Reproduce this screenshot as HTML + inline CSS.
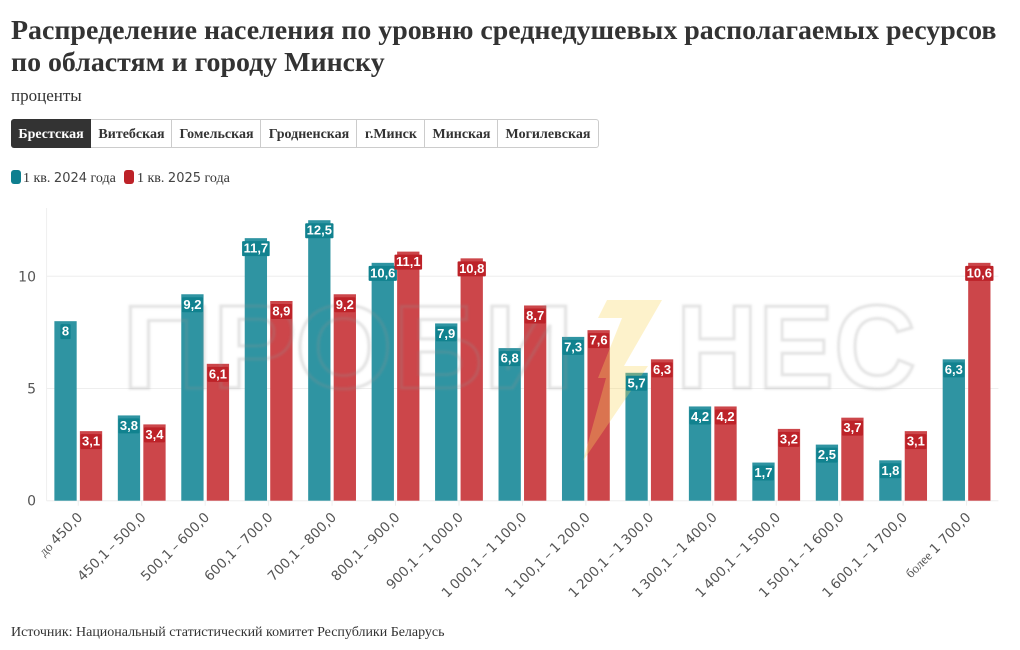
<!DOCTYPE html>
<html lang="ru">
<head>
<meta charset="utf-8">
<title>Распределение населения</title>
<style>
html,body{margin:0;padding:0;background:#fff;}
body{width:1020px;height:650px;position:relative;overflow:hidden;font-family:"Liberation Serif","Noto Serif CJK SC",serif;color:#333;}
.title{position:absolute;left:11px;top:14.5px;margin:0;font-size:27.9px;line-height:32.5px;font-weight:bold;color:#333;white-space:nowrap;}
.sub{position:absolute;left:11px;top:86px;font-size:17px;line-height:20px;color:#333;}
.btn{position:absolute;top:119px;height:27px;line-height:29px;text-align:center;font-size:14px;font-weight:bold;color:#333;background:#fff;border:1px solid #ccc;border-left:none;box-sizing:content-box;}
.btn.on{background:#333;color:#fff;border-color:#333;border-radius:3px 0 0 3px;}
.btn.last{border-radius:0 3px 3px 0;}
.sw{position:absolute;top:170px;width:10px;height:14px;border-radius:3px;}
.lg{position:absolute;top:170px;font-size:14px;line-height:18px;color:#333;white-space:nowrap;}
.num{font-family:"DejaVu Sans",sans-serif;font-size:13px;color:#444;}
.src{position:absolute;left:11px;top:624px;font-size:14px;line-height:17px;color:#333;white-space:nowrap;letter-spacing:-0.01px;}
svg{position:absolute;left:0;top:0;}
</style>
</head>
<body>
<h1 class="title">Распределение населения по уровню среднедушевых располагаемых ресурсов<br>по областям и городу Минску</h1>
<div class="sub">проценты</div>

<div class="btn on" style="left:11px;width:80px">Брестская</div>
<div class="btn" style="left:91px;width:81px">Витебская</div>
<div class="btn" style="left:172px;width:89px;border-left:1px solid #ccc;margin-left:-1px">Гомельская</div>
<div class="btn" style="left:261px;width:96px;border-left:1px solid #ccc;margin-left:-1px">Гродненская</div>
<div class="btn" style="left:357px;width:68px;border-left:1px solid #ccc;margin-left:-1px">г.Минск</div>
<div class="btn" style="left:425px;width:73px;border-left:1px solid #ccc;margin-left:-1px">Минская</div>
<div class="btn last" style="left:498px;width:100px;border-left:1px solid #ccc;margin-left:-1px">Могилевская</div>

<div class="sw" style="left:11px;background:#0f7f8f"></div>
<div class="lg" style="left:23px">1 кв. <span class="num">2024</span> года</div>
<div class="sw" style="left:124px;background:#bd2228"></div>
<div class="lg" style="left:137px">1 кв. <span class="num">2025</span> года</div>

<svg id="chart" width="1020" height="650" viewBox="0 0 1020 650"></svg>

<div class="src">Источник: Национальный статистический комитет Республики Беларусь</div>

<script>
var categories = ["до 450,0","450,1 – 500,0","500,1 – 600,0","600,1 – 700,0","700,1 – 800,0","800,1 – 900,0","900,1 – 1 000,0","1 000,1 – 1 100,0","1 100,1 – 1 200,0","1 200,1 – 1 300,0","1 300,1 – 1 400,0","1 400,1 – 1 500,0","1 500,1 – 1 600,0","1 600,1 – 1 700,0","более 1 700,0"];
var values2024 = [8,3.8,9.2,11.7,12.5,10.6,7.9,6.8,7.3,5.7,4.2,1.7,2.5,1.8,6.3];
var values2025 = [3.1,3.4,6.1,8.9,9.2,11.1,10.8,8.7,7.6,6.3,4.2,3.2,3.7,3.1,10.6];
var yTicks = [0,5,10];

var NS = 'http://www.w3.org/2000/svg';
var svg = document.getElementById('chart');
var plotLeft = 46.6, plotStep = 63.45, plotRight = 998.4, plotTop = 208;
function xCenter(i){ return plotLeft + plotStep * (i + 0.5) - 0.05; }
function yScale(v){ return 500.7 - v * 22.44; }
function mk(tag, attrs, parent){
  var e = document.createElementNS(NS, tag);
  for (var k in attrs) e.setAttribute(k, attrs[k]);
  (parent || svg).appendChild(e);
  return e;
}
function fmt(v){ return String(v).replace('.', ','); }

// grid and axes
var axisLine = mk('line', {x1:plotLeft, x2:plotLeft, y1:plotTop, y2:yScale(0), stroke:'#eeeeee', 'stroke-width':1});


yTicks.forEach(function(t){
  var g = mk('line', {x1:plotLeft, x2:plotRight, y1:yScale(t), y2:yScale(t), stroke:'#eeeeee', 'stroke-width':1});
  
  
  var l = mk('text', {x:36, y:yScale(t) + 5, 'text-anchor':'end', 'font-family':'"DejaVu Sans",sans-serif', 'font-size':14, fill:'#555'});
  l.textContent = t;
  
  
});

// bars
var barW = 22.3, barGap = 3.2;
function drawBars(vals, side, fill, name){
  vals.forEach(function(v, i){
    var x = side < 0 ? xCenter(i) - barGap/2 - barW : xCenter(i) + barGap/2;
    var r = mk('rect', {x:x, y:yScale(v), width:barW, height:yScale(0) - yScale(v), fill:fill});
    
    
  });
}
drawBars(values2024, -1, '#2f94a2', '2024');
drawBars(values2025, 1, '#cc464a', '2025');

// watermark
var wm = mk('g', {});


var defs = mk('defs', {});
var filt = mk('filter', {id:'wmblur', x:'-5%', y:'-20%', width:'110%', height:'140%'}, defs);
mk('feGaussianBlur', {stdDeviation:1.1}, filt);
var wmStyle = {y:388, 'font-family':'"Liberation Sans",sans-serif', 'font-weight':'bold', 'font-size':119, fill:'none', stroke:'#8f8f8f', 'stroke-opacity':0.25, 'stroke-width':3, filter:'url(#wmblur)', lengthAdjust:'spacingAndGlyphs'};
var w1 = mk('text', Object.assign({x:122, textLength:452}, wmStyle), wm);
w1.textContent = 'ПРОБИ';


var w2 = mk('text', Object.assign({x:676, textLength:240}, wmStyle), wm);
w2.textContent = 'НЕС';


var bolt = mk('polygon', {points:'607,300 662,300 624,366 648,366 583,461 606,378 598,378 622,318 598,318', fill:'#f9d65c', 'fill-opacity':0.32}, wm);



// value labels
function drawLabels(vals, side, bg, name){
  vals.forEach(function(v, i){
    var cx = side < 0 ? xCenter(i) - barGap/2 - barW/2 : xCenter(i) + barGap/2 + barW/2;
    var top = yScale(v);
    var t = mk('text', {x:cx, y:top + 14.5, 'text-anchor':'middle', 'font-family':'"Liberation Sans",sans-serif', 'font-weight':'bold', 'font-size':13, fill:'#fff'});
    t.textContent = fmt(v);
    
    
    var w = t.getComputedTextLength() + 3;
    var b = mk('rect', {x:cx - w/2, y:top + 3, width:w, height:15, fill:bg, rx:1});
    
    
    svg.insertBefore(b, t);
  });
}
drawLabels(values2024, -1, '#11828f', '2024');
drawLabels(values2025, 1, '#bd2228', '2025');

// category ticks and labels
categories.forEach(function(c, i){
  var cx = xCenter(i);
  var tk = mk('line', {x1:cx, x2:cx, y1:yScale(0), y2:yScale(0) + 5, stroke:'#eeeeee', 'stroke-width':1});
  
  
  var ax = cx + 5, ay = 518;
  var m = c.match(/^(до|более) (.*)$/);
  var t = mk('text', {x:ax, y:ay, 'text-anchor':'end', transform:'rotate(-45 ' + ax + ' ' + ay + ')', 'font-family':'"DejaVu Sans",sans-serif', 'font-size':13.5, fill:'#555', 'word-spacing': m ? '0' : '-1.2'});
  if (m) {
    var sp = mk('tspan', {'font-family':'"Liberation Serif",serif', 'font-size':13}, t);
    sp.textContent = m[1] + ' ';
    var sp2 = mk('tspan', {}, t);
    sp2.textContent = m[2];
  } else {
    t.textContent = c;
  }
  
  
});
</script>
</body>
</html>
